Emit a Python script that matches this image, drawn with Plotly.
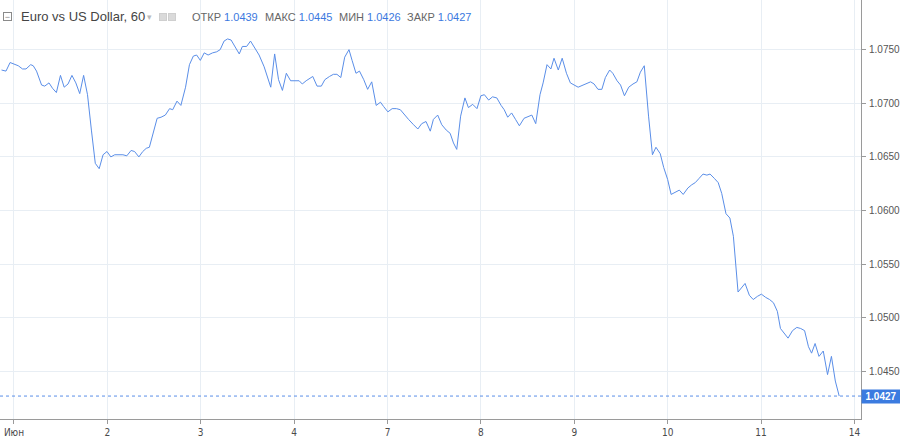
import plotly.graph_objects as go

# ---- data (hours from 1 June 00:00, hourly EUR/USD closes) ----
hours = [-3.2, -2.05, -1.0, 0.26, 1.1, 2.2, 3.1, 4.3, 4.95, 5.8, 7.1, 7.9, 9.0, 9.9, 10.9,
         11.95, 12.9, 13.9, 14.9, 15.9, 16.9, 17.9, 18.9, 19.9, 20.9, 21.9, 22.9, 23.9, 24.9,
         25.9, 26.9, 28.0, 29.0, 30.1, 31.0, 32.1, 33.1, 34.0, 34.8, 35.9, 36.8, 37.8, 38.9,
         40.0, 40.8, 41.9, 42.9, 44.1, 45.1, 46.1, 46.95, 47.9, 48.9, 49.9, 51.05, 52.1, 53.0,
         54.0, 54.9, 55.8, 56.8, 57.9, 58.7, 59.8, 60.8, 61.7, 63.0, 64.3, 65.1, 66.0, 67.0,
         68.0, 69.0, 70.0, 71.1, 73.3, 74.1, 75.1, 76.8, 77.9, 79.0, 79.9, 81.1, 82.1, 83.0,
         84.0, 85.0, 86.1, 86.9, 87.9, 88.8, 89.9, 90.9, 91.95, 93.1, 94.2, 95.0, 96.1, 97.2,
         98.3, 99.3, 100.4, 101.4, 102.7, 103.8, 104.8, 105.9, 107.0, 107.8, 108.9, 109.95,
         111.1, 112.1, 112.96, 113.8, 114.8, 115.9, 116.8, 117.9, 119.0, 120.0, 120.9, 122.0,
         123.0, 124.1, 125.2, 126.0, 126.9, 127.9, 128.9, 129.9, 131.1, 132.2, 133.1, 134.1,
         135.2, 136.0, 137.0, 138.0, 138.8, 139.9, 140.9, 142.0, 143.0, 145.0, 146.7, 148.2,
         149.1, 150.1, 151.1, 152.0, 153.1, 153.9, 155.0, 155.9, 156.9, 158.0, 159.1, 160.1,
         161.0, 162.0, 163.1, 164.1, 165.0, 166.1, 167.0, 168.0, 168.9, 169.9, 171.0, 172.0,
         173.2, 174.2, 175.1, 176.1, 177.1, 178.1, 178.9, 180.0, 181.0, 181.9, 183.0, 184.0,
         184.9, 186.1, 187.0, 187.9, 189.0, 190.0, 191.1, 192.1, 193.2, 194.2, 195.2, 196.2,
         197.0, 198.1, 198.95, 200.1, 201.2, 202.2, 203.2, 204.2, 205.0, 205.9, 206.9, 208.0,
         209.1, 210.1, 211.1, 212.1]
prices = [1.0731, 1.0730, 1.0738, 1.0736, 1.0735, 1.0732, 1.0732, 1.0736, 1.0735, 1.0730,
          1.0717, 1.0716, 1.0719, 1.0714, 1.0710, 1.0726, 1.0715, 1.0718, 1.0726, 1.0719,
          1.0709, 1.0726, 1.0708, 1.0675, 1.0644, 1.0639, 1.0652, 1.0655, 1.0650, 1.0652,
          1.0652, 1.0652, 1.0651, 1.0656, 1.0655, 1.0650, 1.0655, 1.0658, 1.0659, 1.0675,
          1.0686, 1.0687, 1.0689, 1.0695, 1.0694, 1.0702, 1.0698, 1.0715, 1.0736, 1.0744,
          1.0745, 1.0740, 1.0747, 1.0745, 1.0747, 1.0748, 1.0750, 1.0758, 1.0760, 1.0759,
          1.0753, 1.0746, 1.0753, 1.0753, 1.0758, 1.0753, 1.0745, 1.0734, 1.0725, 1.0715,
          1.0746, 1.0722, 1.0712, 1.0728, 1.0721, 1.0721, 1.0718, 1.0721, 1.0725, 1.0716,
          1.0716, 1.0722, 1.0725, 1.0727, 1.0727, 1.0724, 1.0743, 1.0750, 1.0740, 1.0728,
          1.0730, 1.0722, 1.0713, 1.0720, 1.0698, 1.0701, 1.0697, 1.0692, 1.0695, 1.0695,
          1.0694, 1.0689, 1.0685, 1.0680, 1.0676, 1.0681, 1.0683, 1.0674, 1.0685, 1.0689,
          1.0680, 1.0675, 1.0672, 1.0663, 1.0657, 1.0688, 1.0705, 1.0696, 1.0699, 1.0695,
          1.0707, 1.0708, 1.0703, 1.0706, 1.0705, 1.0698, 1.0694, 1.0687, 1.0691, 1.0685,
          1.0679, 1.0686, 1.0688, 1.0689, 1.0681, 1.0708, 1.0719, 1.0736, 1.0732, 1.0742,
          1.0731, 1.0742, 1.0728, 1.0719, 1.0715, 1.0718, 1.0720, 1.0718, 1.0713, 1.0713,
          1.0724, 1.0731, 1.0728, 1.0721, 1.0717, 1.0707, 1.0715, 1.0718, 1.0720, 1.0729,
          1.0735, 1.0688, 1.0652, 1.0659, 1.0653, 1.0640, 1.0629, 1.0615, 1.0617, 1.0619,
          1.0615, 1.0621, 1.0624, 1.0626, 1.0630, 1.0634, 1.0633, 1.0634, 1.0630, 1.0626,
          1.0616, 1.0597, 1.0593, 1.0576, 1.0524, 1.0528, 1.0532, 1.0521, 1.0517, 1.0520,
          1.0522, 1.0519, 1.0517, 1.0514, 1.0506, 1.0490, 1.0485, 1.0481, 1.0488, 1.0491,
          1.0490, 1.0488, 1.0473, 1.0467, 1.0476, 1.0464, 1.0469, 1.0447, 1.0464, 1.0441,
          1.0427]

tick_hours = [0, 24, 48, 72, 96, 120, 144, 168, 192, 216]
tick_labels = ["Июн", "2", "3", "4", "7", "8", "9", "10", "11", "14"]
y_ticks = [1.0450, 1.0500, 1.0550, 1.0600, 1.0650, 1.0700, 1.0750]

title_text = "Euro vs US Dollar, 60"
ohlc_names = ["ОТКР", "МАКС", "МИН", "ЗАКР"]
ohlc_values = ["1.0439", "1.0445", "1.0426", "1.0427"]
last_price = 1.0427

# ---- styling ----
LINE = "#5a8ee8"
GRID = "#e8eef4"
AXIS = "#9a9a9a"
TXT = "#555555"
W, H = 900, 438
ML, MR, MT, MB = 0, 36, 0, 16
PW, PH = W - ML - MR, H - MT - MB

def px(x):
    return x / PW

def py(y):
    return 1 - y / PH

fig = go.Figure()
fig.add_trace(go.Scatter(x=hours, y=prices, mode="lines",
                         line=dict(color=LINE, width=1), hoverinfo="skip"))

fig.add_hline(y=last_price, line=dict(color=LINE, width=1, dash="dot"))

annotations = [
    dict(x=1, xref="paper", y=last_price, yref="y", xanchor="left", yanchor="middle",
         text="<b>%.4f</b>" % last_price, showarrow=False, bgcolor="#3b7be0",
         font=dict(color="white", size=10, family="Liberation Sans, Arial"),
         borderpad=1, xshift=0, width=36, align="center"),
    # collapse icon (boxed minus)
    dict(x=px(3), y=py(12), xref="paper", yref="paper", xanchor="left", yanchor="top",
         text="−", showarrow=False, width=7, height=7, borderpad=0, align="center",
         bordercolor="#8a8a8a", borderwidth=1,
         font=dict(color="#8a8a8a", size=9, family="Liberation Sans, Arial")),
    dict(x=px(19), y=py(17), xref="paper", yref="paper", xanchor="left", yanchor="middle",
         text=title_text, showarrow=False,
         font=dict(color="#444444", size=13, family="Liberation Sans, Arial")),
    dict(x=px(145.5), y=py(17), xref="paper", yref="paper", xanchor="left", yanchor="middle",
         text="▾", showarrow=False, font=dict(color="#bbbbbb", size=9)),
]
# two small gray icon squares
for ix in [160, 169]:
    annotations.append(dict(
        x=px(ix), y=py(13), xref="paper", yref="paper", xanchor="left", yanchor="top",
        text=" ", showarrow=False, width=6, height=6, borderpad=0,
        bgcolor="#dadada", bordercolor="#cfcfcf", borderwidth=1, font=dict(size=6)))

ohlc_x = [191, 264, 338, 406]
for name, val, xp in zip(ohlc_names, ohlc_values, ohlc_x):
    annotations.append(dict(
        x=px(xp), y=py(17), xref="paper", yref="paper", xanchor="left", yanchor="middle",
        text="<span style='color:#666666'>%s</span> <span style='color:#3b78e0'>%s</span>" % (name, val),
        showarrow=False, font=dict(size=11, family="Liberation Sans, Arial")))

fig.update_layout(
    width=W, height=H,
    margin=dict(l=ML, r=MR, t=MT, b=MB),
    paper_bgcolor="white", plot_bgcolor="white",
    showlegend=False,
    annotations=annotations,
    xaxis=dict(range=[-3.59, 217.7], tickmode="array", tickvals=tick_hours, ticktext=tick_labels,
               showgrid=True, gridcolor=GRID, gridwidth=1, zeroline=False,
               showline=True, linecolor=AXIS, linewidth=1, mirror=False,
               ticks="outside", ticklen=4, tickcolor=AXIS,
               tickfont=dict(size=10, color="#4a4a4a", family="Liberation Sans Narrow, DejaVu Sans Condensed, Arial")),
    yaxis=dict(range=[1.04056, 1.07963], side="right", tickmode="array", tickvals=y_ticks,
               tickformat=".4f", showgrid=True, gridcolor=GRID, gridwidth=1, zeroline=False,
               showline=True, linecolor=AXIS, linewidth=1,
               ticks="outside", ticklen=4, tickcolor=AXIS, ticklabelstandoff=1,
               tickfont=dict(size=10, color=TXT, family="Liberation Sans, Arial")),
)

fig.write_html("out.html", config={"displayModeBar": False},
               post_script="document.body.style.margin='0';document.body.style.overflow='hidden';")
